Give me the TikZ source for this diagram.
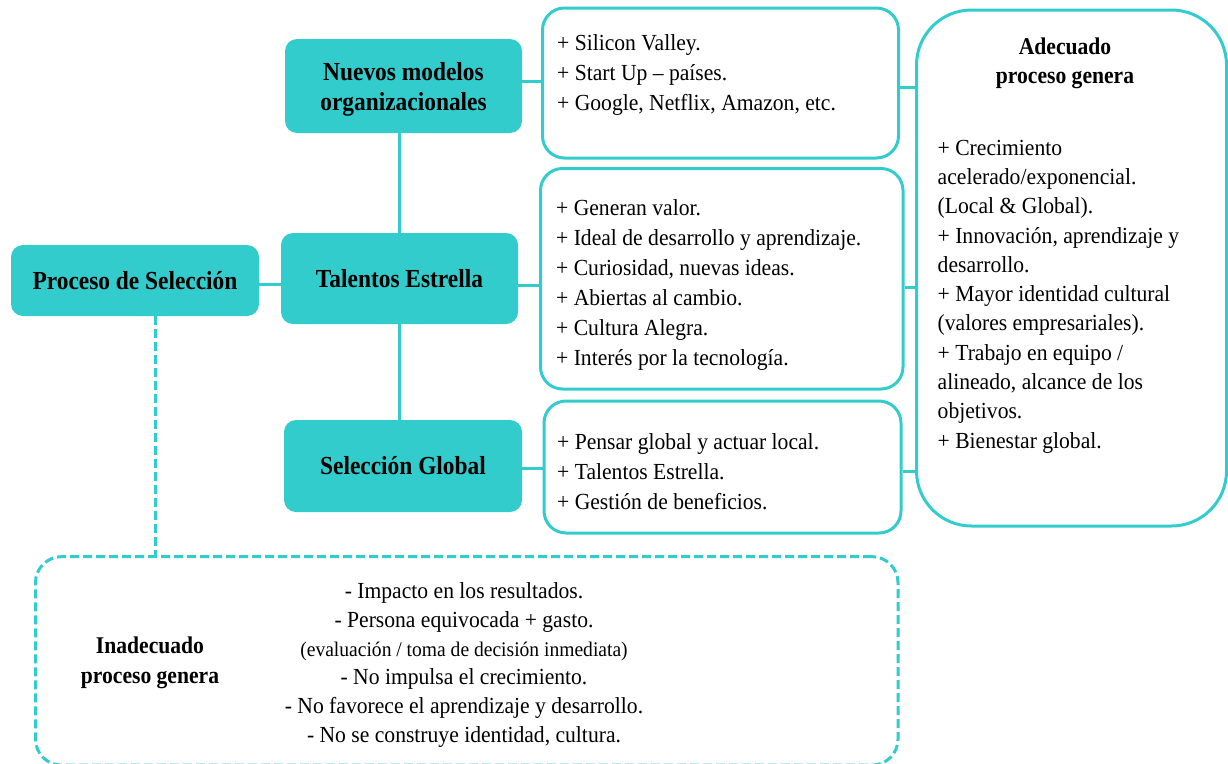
\documentclass[tikz,border=0pt]{standalone}
\usepackage{fontspec}
\setmainfont{Liberation Serif}[FakeStretch=0.94]
\newfontfamily\boldfam{Liberation Serif}[FakeStretch=0.9]
\definecolor{teal1}{RGB}{51,204,204}
\tikzset{
 mainbox/.style={fill=teal1, rounded corners=12pt, inner sep=0pt, align=center,
   font=\boldfam\bfseries\fontsize{26}{30}\selectfont},
 listbox/.style={draw=teal1, line width=3pt, rounded corners=22pt, inner sep=0pt},
 conn/.style={draw=teal1, line width=3pt},
 dconn/.style={draw=teal1, line width=3pt, dash pattern=on 9pt off 4pt},
 txt/.style={inner sep=0pt, align=left, anchor=west, font=\fontsize{23}{30}\selectfont},
 hdr/.style={inner sep=0pt, align=center, font=\boldfam\bfseries\fontsize{24}{29.5}\selectfont},
}
\begin{document}
\begin{tikzpicture}[x=1pt,y=-1pt]
\useasboundingbox (0,0) rectangle (1228,763);
% main teal nodes
\node[mainbox, minimum width=248pt, minimum height=71pt] (proceso) at (135,280.5) {Proceso de Selección};
\node[mainbox, minimum width=237pt, minimum height=94pt] (nuevos) at (403.5,86) {};
\node[inner sep=0pt, align=center, font=\boldfam\bfseries\fontsize{26}{30}\selectfont] (nuevost) at (403.5,89) {Nuevos modelos\\organizacionales};
\node[mainbox, minimum width=237pt, minimum height=91pt] (talentos) at (399.5,278.5) {Talentos Estrella};
\node[mainbox, minimum width=238pt, minimum height=92pt] (seleccion) at (403,466) {Selección Global};
% list boxes
\node[listbox, minimum width=356pt, minimum height=150pt] (box1) at (720.5,83) {};
\node[listbox, minimum width=362.5pt, minimum height=220.5pt] (box2) at (721.75,278.75) {};
\node[listbox, minimum width=357pt, minimum height=132pt] (box3) at (722.5,467) {};
\node[listbox, rounded corners=55pt, minimum width=310pt, minimum height=516pt] (big) at (1071.5,268) {};
\node[dconn, rounded corners=26pt, inner sep=0pt, minimum width=862.5pt, minimum height=208.5pt] (dbox) at (466.75,660.9) {};
% texts
\node[txt] (t1) at (557,75) {+ Silicon Valley.\\+ Start Up – países.\\+ Google, Netflix, Amazon, etc.};
\node[txt] (t2) at (556,285) {+ Generan valor.\\+ Ideal de desarrollo y aprendizaje.\\+ Curiosidad, nuevas ideas.\\+ Abiertas al cambio.\\+ Cultura Alegra.\\+ Interés por la tecnología.};
\node[txt] (t3) at (557,472) {+ Pensar global y actuar local.\\+ Talentos Estrella.\\+ Gestión de beneficios.};
\node[hdr] (adec) at (1065,63.5) {Adecuado\\proceso genera};
\node[txt, font=\fontsize{23}{29.3}\selectfont] (t4) at (937.5,296.5) {+ Crecimiento\\acelerado/exponencial.\\(Local \& Global).\\+ Innovación, aprendizaje y\\desarrollo.\\+ Mayor identidad cultural\\(valores empresariales).\\+ Trabajo en equipo /\\alineado, alcance de los\\objetivos.\\+ Bienestar global.};
\node[hdr] (inad) at (150,663) {Inadecuado\\proceso genera};
\node[inner sep=0pt, align=center, font=\fontsize{23}{28.8}\selectfont] (t5) at (464,665) {- Impacto en los resultados.\\- Persona equivocada + gasto.\\{\fontsize{20.8}{28.8}\selectfont (evaluación / toma de decisión inmediata)}\\- No impulsa el crecimiento.\\- No favorece el aprendizaje y desarrollo.\\- No se construye identidad, cultura.};
% connectors
\draw[conn] ([yshift=-3.5pt]proceso.east) -- ([yshift=-3.5pt]talentos.west |- proceso.east);
\draw[conn] (talentos.north) -- (talentos.north |- nuevos.south);
\draw[conn] (talentos.south) -- (talentos.south |- seleccion.north);
\draw[conn] ([yshift=5pt]nuevos.east) -- ([yshift=5pt]box1.west |- nuevos.east);
\draw[conn] ([yshift=-6.5pt]talentos.east) -- ([yshift=-6.5pt]box2.west |- talentos.east);
\draw[conn] ([yshift=-2pt]seleccion.east) -- ([yshift=-2pt]box3.west |- seleccion.east);
\draw[conn] ([yshift=-4pt]box1.east) -- ([yshift=-4pt]big.west |- box1.east);
\draw[conn] ([yshift=-8.75pt]box2.east) -- ([yshift=-8.75pt]big.west |- box2.east);
\draw[conn] ([yshift=-4.7pt]box3.east) -- ([yshift=-4.7pt]big.west |- box3.east);
\draw[dconn] ([xshift=20pt]proceso.south) -- ([xshift=20pt]proceso.south |- dbox.north);
\end{tikzpicture}
\end{document}
